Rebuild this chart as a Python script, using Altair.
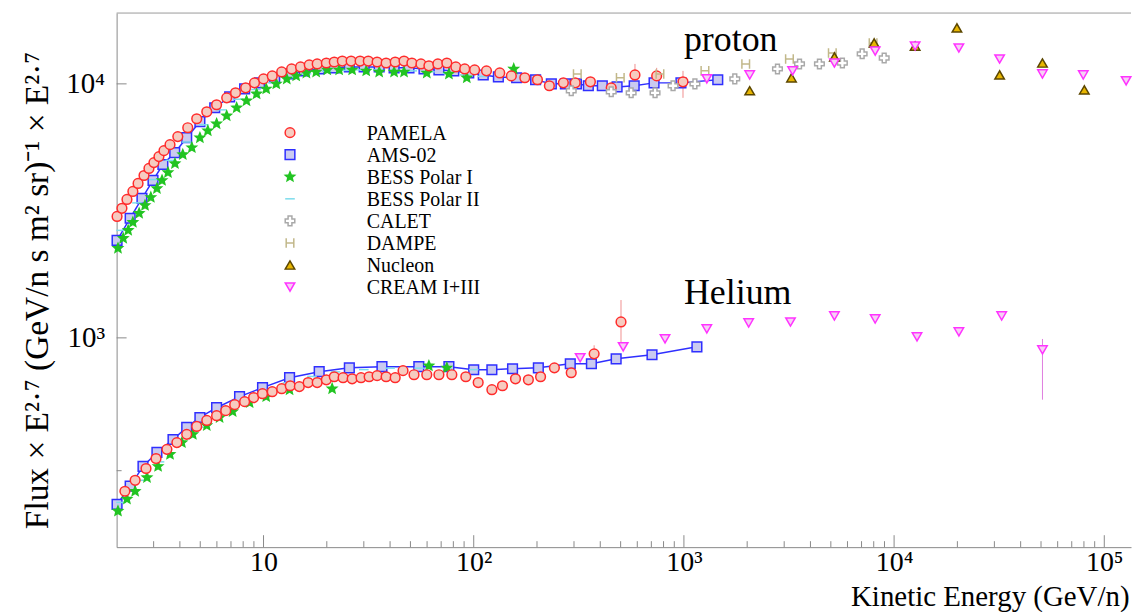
import altair as alt
import pandas as pd

# ---------------- data ----------------
# proton
pamela_p_E = [2.01, 2.12, 2.24, 2.39, 2.53, 2.70, 2.85, 3.01, 3.18, 3.36, 3.59, 3.91, 4.36, 4.81, 5.37, 5.98,
              6.68, 7.36, 8.22, 9.06, 10.0, 11.0, 12.2, 13.6, 15.0, 16.5, 18.0, 19.9, 21.7, 23.7, 26.1, 28.8,
              31.5, 34.7, 38.3, 42.3, 46.6, 50.8, 56.1, 61.2, 67.5, 74.5, 82.2, 90.6, 101, 115, 133, 151, 175,
              201, 229, 267, 304, 359, 451, 585, 742, 990]
pamela_p_F = [3006, 3236, 3508, 3770, 4055, 4358, 4645, 4898, 5172, 5458, 5764, 6199, 6719, 7289, 7762, 8276,
              8810, 9222, 9643, 10090, 10460, 10750, 11140, 11450, 11660, 11880, 11980, 12080, 12190, 12300, 12300, 12300,
              12300, 12190, 12080, 12190, 12300, 12080, 11980, 11780, 11980, 12080, 11660, 11450, 11350, 11250, 11040, 10750, 10570,
              10380, 9830, 10090, 10090, 10190, 9643, 10840, 10750, 10190]
pamela_p_err_E = [585, 742, 990]
pamela_p_err_lo = [9830, 10280, 8810]
pamela_p_err_hi = [11980, 11560, 11250]

ams_p_E = [2.01, 2.32, 2.64, 2.98, 3.32, 3.78, 4.31, 4.98, 5.86, 6.90, 8.13, 9.57, 11.3, 13.3, 15.6, 18.4,
           21.7, 25.6, 30.1, 35.5, 41.8, 49.2, 58.0, 68.3, 80.4, 94.7, 111, 131, 160, 197, 234, 273, 308,
           351, 409, 481, 580, 721, 968, 1449]
ams_p_F = [2421, 2958, 3540, 4169, 4813, 5361, 6138, 7096, 8054, 8893, 9556, 10090, 10570, 10940, 11250, 11450,
           11560, 11660, 11660, 11660, 11560, 11560, 11450, 11350, 11250, 11040, 10840, 10650, 10570, 10380, 10000, 10000, 10000,
           9830, 9830, 9727, 9830, 10090, 10090, 10380]

bess1_p_E = [2.03, 2.15, 2.27, 2.39, 2.56, 2.73, 2.91, 3.11, 3.29, 3.51, 3.79, 4.13, 4.56, 4.98, 5.43, 5.98,
             6.68, 7.45, 8.30, 9.27, 10.3, 11.5, 12.9, 14.3, 16.0, 17.8, 20.1, 22.9, 26.4, 30.8, 35.5, 41.8,
             46.6, 59.8, 76.2, 92.7, 155]
bess1_p_F = [2254, 2466, 2652, 2851, 3093, 3324, 3574, 3875, 4169, 4479, 4856, 5271, 5611, 6138, 6540, 6969,
             7490, 8054, 8577, 9136, 9556, 10000, 10460, 10750, 11040, 11140, 11350, 11350, 11350, 11250, 11140, 11140,
             11140, 11040, 10940, 10570, 11450]

bess2_p_E = [2.1, 2.5, 3.0, 3.6, 4.3, 5.2, 6.3, 7.6, 9.2, 11, 13.5, 16, 20, 24, 29, 35, 42, 51, 62, 75, 90, 110]
bess2_p_F = [2650, 3400, 4200, 5000, 5900, 6900, 7900, 8700, 9500, 10100, 10600, 10950, 11200, 11300, 11350, 11350,
             11300, 11250, 11150, 11000, 10850, 10700]

calet_p_E = [291, 451, 561, 729, 888, 1128, 1746, 2787, 3548, 4413, 5675, 7047, 8970]
calet_p_F = [9395, 9310, 9220, 9220, 9830, 10000, 10460, 11450, 11980, 11980, 12080, 13130, 12640]

dampe_p_E = [311, 498, 769, 1259, 1968, 3177, 5082, 7943]
dampe_p_F = [10940, 10570, 10940, 11250, 11980, 12530, 13240, 14490]

nucleon_p_E = [2056, 3250, 5200, 8035, 12590, 19900, 31770, 50800, 80350]
nucleon_p_F = [9395, 10560, 12760, 14490, 14090, 16600, 10840, 12080, 9470]

cream_p_E = [1285, 2056, 3289, 5200, 8128, 12590, 20330, 31770, 50800, 79430, 127000]
cream_p_F = [10470, 10840, 11250, 12080, 13460, 14090, 13840, 12530, 10940, 10840, 10280]

# helium
pamela_he_E = [2.19, 2.45, 2.76, 3.08, 3.47, 3.87, 4.31, 4.81, 5.37, 5.98, 6.61, 7.29, 8.13, 8.97, 9.89, 11.0,
               12.2, 13.4, 14.8, 16.3, 18.0, 19.9, 21.7, 23.9, 26.4, 29.1, 31.8, 34.7, 38.3, 42.3, 46.1, 52.0,
               59.8, 68.3, 78.7, 91.7, 105, 122, 137, 158, 182, 208, 242, 291, 374, 502]
pamela_he_F = [249, 275, 306, 335, 364, 387, 417, 448, 473, 494, 517, 546, 561, 582, 603, 614,
               631, 648, 643, 667, 667, 684, 703, 697, 690, 697, 703, 710, 703, 697, 743, 716,
               716, 716, 716, 703, 667, 625, 648, 690, 684, 703, 762, 729, 865, 1155]
pamela_he_err_E = [374, 502]
pamela_he_err_lo = [800, 939]
pamela_he_err_hi = [935, 1409]

ams_he_E = [2.01, 2.32, 2.67, 3.11, 3.71, 4.31, 4.98, 5.98, 7.69, 9.89, 13.3, 18.4, 25.6, 36.6, 54.8, 76.2,
            100, 122, 153, 203, 288, 363, 476, 705, 1153]
ams_he_F = [221, 261, 312, 354, 398, 444, 486, 531, 587, 637, 697, 736, 762, 770, 770, 770,
            749, 749, 756, 762, 791, 791, 827, 858, 922]

bess1_he_E = [2.03, 2.24, 2.45, 2.79, 3.15, 3.59, 4.09, 4.61, 5.37, 6.18, 7.13, 8.59, 10.3, 13.3, 21.2, 61.2, 74.5]
bess1_he_F = [208, 232, 249, 282, 312, 348, 387, 417, 452, 486, 513, 556, 587, 625, 631, 776, 762]

bess2_he_E = [2.1, 2.6, 3.2, 4.0, 5.0, 6.3, 8, 10, 13, 17, 22, 30, 40, 55, 75, 100]
bess2_he_F = [225, 275, 325, 385, 445, 505, 565, 615, 665, 705, 735, 750, 760, 760, 755, 750]

cream_he_E = [321, 514, 813, 1285, 2033, 3214, 5200, 8128, 12850, 20330, 32500, 50800]
cream_he_F = [835, 922, 991, 1085, 1145, 1155, 1220, 1187, 1009, 1056, 1220, 897]
cream_he_err_E = [50800]
cream_he_err_lo = [571]
cream_he_err_hi = [990]

# annotations
label_text = ["proton", "Helium"]
label_E = [1000, 1000]
label_F = [13460, 1360]

# axis ticks
x_major = [10, 100, 1000, 10000, 100000]
y_major = [1000, 10000]
x_minor = [m * 10 ** k for k in range(0, 6) for m in range(2, 10) if 2 < m * 10 ** k < 134000]
y_minor = [300, 3000]

# ---------------- build tables ----------------
def tab(name, species, E, F):
    return pd.DataFrame({"E": E, "F": F, "series": name, "species": species})

draw = pd.concat([
    tab("AMS-02", "p", ams_p_E, ams_p_F), tab("AMS-02", "He", ams_he_E, ams_he_F),
    tab("BESS Polar II", "p", bess2_p_E, bess2_p_F), tab("BESS Polar II", "He", bess2_he_E, bess2_he_F),
    tab("BESS Polar I", "p", bess1_p_E, bess1_p_F), tab("BESS Polar I", "He", bess1_he_E, bess1_he_F),
    tab("PAMELA", "p", pamela_p_E, pamela_p_F), tab("PAMELA", "He", pamela_he_E, pamela_he_F),
    tab("CALET", "p", calet_p_E, calet_p_F),
    tab("DAMPE", "p", dampe_p_E, dampe_p_F),
    tab("Nucleon", "p", nucleon_p_E, nucleon_p_F),
    tab("CREAM I+III", "p", cream_p_E, cream_p_F), tab("CREAM I+III", "He", cream_he_E, cream_he_F),
], ignore_index=True)
ams_line = pd.concat([tab("AMS-02", "p", ams_p_E, ams_p_F), tab("AMS-02", "He", ams_he_E, ams_he_F)],
                     ignore_index=True)

legend_order = ["PAMELA", "AMS-02", "BESS Polar I", "BESS Polar II", "CALET", "DAMPE", "Nucleon", "CREAM I+III"]
stroke_colors = ["#ff2b2b", "#2f2fff", "#22c422", "#7cdcec", "#a9a9a9", "#c2b88a", "#5c4700", "#ff33ff"]
fill_colors = ["#f6cbc0", "#cacaf0", "#22c422", "#7cdcec", "#ffffff", "#ffffff", "#e8b600", "#f6d0f4"]
marker_sizes = [95, 90, 100, 90, 100, 60, 65, 65]
star = "M0,-1L0.26,-0.36L0.95,-0.31L0.43,0.14L0.59,0.81L0,0.45L-0.59,0.81L-0.43,0.14L-0.95,-0.31L-0.26,-0.36Z"
hshape = "M-0.8,-1L-0.8,1M0.8,-1L0.8,1M-0.8,0L0.8,0"
shapes = ["circle", "square", star, "stroke", "cross", hshape, "triangle-up", "triangle-down"]

FONT = "Liberation Serif"
W, H = 1018, 536
xs = alt.Scale(type="log", domain=[2, 134000], nice=False)
ys = alt.Scale(type="log", domain=[150, 19000], nice=False)

shape_enc = alt.Shape("series:N", scale=alt.Scale(domain=legend_order, range=shapes), legend=None)
stroke_enc = alt.Stroke("series:N", scale=alt.Scale(domain=legend_order, range=stroke_colors), legend=None)
fill_enc = alt.Fill("series:N", scale=alt.Scale(domain=legend_order, range=fill_colors), legend=None)
size_enc = alt.Size("series:N", scale=alt.Scale(domain=legend_order, range=marker_sizes), legend=None)

x_axis = alt.Axis(values=x_major, ticks=False, grid=False, domainColor="#8a8a8a",
                  labelExpr="datum.value == 10 ? '10' : datum.value == 100 ? '10\u00b2' : datum.value == 1000 ? '10\u00b3' : datum.value == 10000 ? '10\u2074' : '10\u2075'",
                  labelFont=FONT, labelFontSize=28, labelColor="black", labelPadding=1.5, labelOverlap=False,
                  labelFlush=False,
                  title="Kinetic Energy (GeV/n)", titleFont=FONT, titleFontSize=29, titleFontWeight="normal",
                  titleColor="black", titleX=1016, titleY=59, titleAlign="right", titleBaseline="alphabetic")
y_axis = alt.Axis(values=y_major, ticks=False, grid=False, domainColor="#8a8a8a",
                  labelExpr="datum.value == 1000 ? '10\u00b3' : '10\u2074'",
                  labelFont=FONT, labelFontSize=29, labelColor="black", labelPadding=12, labelOverlap=False,
                  labelFlush=False,
                  title="Flux \u00d7 E\u00b2\u00b7\u2077 (GeV/n s m\u00b2 sr)\u207b\u00b9 \u00d7 E\u00b2\u00b7\u2077",
                  titleFont=FONT, titleFontSize=33.5, titleFontWeight="normal", titleColor="black",
                  titleAngle=270, titleX=-69, titleY=278, titleAlign="center", titleBaseline="alphabetic")

points = alt.Chart(draw).mark_point(strokeWidth=1.5, opacity=1, fillOpacity=1).encode(
    x=alt.X("E:Q", scale=xs, axis=x_axis),
    y=alt.Y("F:Q", scale=ys, axis=y_axis),
    shape=shape_enc, stroke=stroke_enc, fill=fill_enc, size=size_enc,
)

ams_curve = alt.Chart(ams_line).mark_line(color="#2f2fff", strokeWidth=1.5).encode(
    x=alt.X("E:Q", scale=xs), y=alt.Y("F:Q", scale=ys, axis=None), detail="species:N")

def errbars(E, lo, hi, color):
    d = pd.DataFrame({"E": E, "F": lo, "F2": hi})
    return alt.Chart(d).mark_rule(color=color, strokeWidth=1).encode(
        x=alt.X("E:Q", scale=xs), y=alt.Y("F:Q", scale=ys, axis=None), y2="F2:Q")

def xticks(vals, length):
    d = pd.DataFrame({"E": vals})
    return alt.Chart(d).mark_rule(color="#8a8a8a", strokeWidth=1).encode(
        x=alt.X("E:Q", scale=xs), y=alt.value(H), y2=alt.value(H - length))

def yticks(vals, length):
    d = pd.DataFrame({"F": vals})
    return alt.Chart(d).mark_rule(color="#8a8a8a", strokeWidth=1).encode(
        y=alt.Y("F:Q", scale=ys, axis=None), x=alt.value(0), x2=alt.value(length))

top_border = alt.Chart(pd.DataFrame({"k": [0]})).mark_rule(color="#9a9a9a", strokeWidth=1).encode(
    x=alt.value(0), x2=alt.value(W), y=alt.value(0))

labels = alt.Chart(pd.DataFrame({"E": label_E, "F": label_F, "t": label_text})).mark_text(
    align="left", baseline="alphabetic", font=FONT, fontSize=36, color="black").encode(
    x=alt.X("E:Q", scale=xs), y=alt.Y("F:Q", scale=ys, axis=None), text="t:N")

# hand-built legend (rows on a point scale)
legend_df = pd.DataFrame({"series": legend_order})
row_scale = alt.Scale(type="point", domain=legend_order, range=[120, 275], padding=0)
leg_sym = alt.Chart(legend_df).mark_point(strokeWidth=1.5, opacity=1, fillOpacity=1).encode(
    x=alt.value(174), y=alt.Y("series:N", scale=row_scale, axis=None),
    shape=shape_enc, stroke=stroke_enc, fill=fill_enc, size=size_enc)
leg_txt = alt.Chart(legend_df).mark_text(align="left", baseline="middle", font=FONT, fontSize=20,
                                         color="black", dy=1).encode(
    x=alt.value(251), y=alt.Y("series:N", scale=row_scale, axis=None), text="series:N")

chart = alt.layer(
    top_border, xticks(x_major, 12), xticks(x_minor, 6), yticks(y_major, 10), yticks(y_minor, 5),
    errbars(pamela_p_err_E, pamela_p_err_lo, pamela_p_err_hi, "#f09090"),
    errbars(pamela_he_err_E, pamela_he_err_lo, pamela_he_err_hi, "#f09090"),
    errbars(cream_he_err_E, cream_he_err_lo, cream_he_err_hi, "#e07ee0"),
    ams_curve, points, labels, leg_sym, leg_txt
).resolve_scale(y="independent").properties(
    width=W, height=H,
    autosize=alt.AutoSizeParams(type="none"),
    padding={"left": 109, "top": 4, "right": 3, "bottom": 64},
    background="white",
).configure_view(stroke=None)

chart.save("out.html", embed_options={"renderer": "svg", "actions": False})
